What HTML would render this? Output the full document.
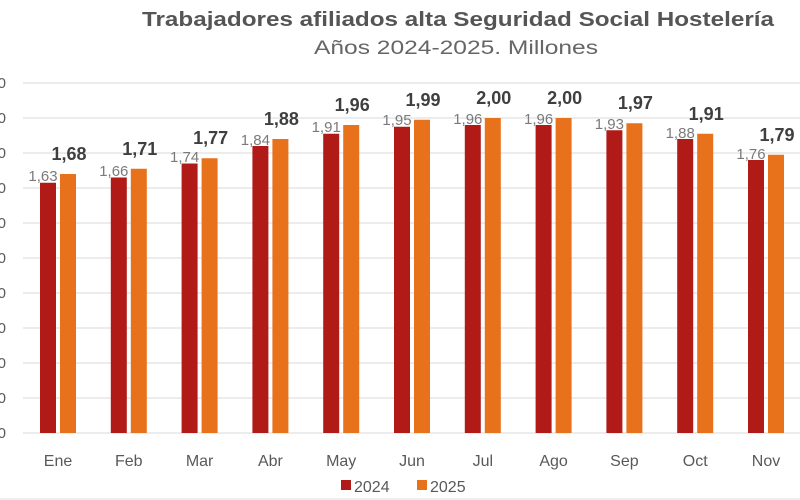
<!DOCTYPE html>
<html><head><meta charset="utf-8"><style>
html,body{margin:0;padding:0;background:#fff;}
svg{display:block;font-family:"Liberation Sans",sans-serif;}
.g{stroke:#d9d9d9;stroke-width:1}
.a{fill:#b01a17}.b{fill:#e8711c}
.l1{font-size:15px;fill:#7a7a7a;text-anchor:middle}
.l2{font-size:18px;font-weight:bold;fill:#3f3f3f;text-anchor:middle}
.m{font-size:16px;fill:#595959;text-anchor:middle}
.y{font-size:15px;fill:#595959;text-anchor:end}
</style></head><body>
<svg width="800" height="500" viewBox="0 0 800 500">
<rect width="800" height="500" fill="#fff"/>
<text x="142" y="26" font-size="20" font-weight="bold" fill="#555" textLength="632" lengthAdjust="spacingAndGlyphs">Trabajadores afiliados alta Seguridad Social Hostelería</text>
<text x="314" y="54" font-size="19" fill="#666" textLength="284" lengthAdjust="spacingAndGlyphs">Años 2024-2025. Millones</text>
<g class="g">
<line x1="23" x2="800" y1="83" y2="83"/><line x1="23" x2="800" y1="118" y2="118"/>
<line x1="23" x2="800" y1="153" y2="153"/><line x1="23" x2="800" y1="188" y2="188"/>
<line x1="23" x2="800" y1="223" y2="223"/><line x1="23" x2="800" y1="258" y2="258"/>
<line x1="23" x2="800" y1="293" y2="293"/><line x1="23" x2="800" y1="328" y2="328"/>
<line x1="23" x2="800" y1="363" y2="363"/><line x1="23" x2="800" y1="398" y2="398"/>
<line x1="23" x2="800" y1="433" y2="433"/>
</g>
<g class="y">
<text x="6" y="88">0</text><text x="6" y="123">0</text><text x="6" y="158">0</text><text x="6" y="193">0</text>
<text x="6" y="228">0</text><text x="6" y="263">0</text><text x="6" y="298">0</text><text x="6" y="333">0</text>
<text x="6" y="368">0</text><text x="6" y="403">0</text><text x="6" y="438">0</text>
</g>
<g>
<rect class="a" x="40" y="182.75" width="16" height="250.25"/><rect class="b" x="60" y="174" width="16" height="259"/>
<rect class="a" x="110.8" y="177.5" width="16" height="255.5"/><rect class="b" x="130.8" y="168.75" width="16" height="264.25"/>
<rect class="a" x="181.6" y="163.5" width="16" height="269.5"/><rect class="b" x="201.6" y="158.25" width="16" height="274.75"/>
<rect class="a" x="252.4" y="146" width="16" height="287"/><rect class="b" x="272.4" y="139" width="16" height="294"/>
<rect class="a" x="323.2" y="133.75" width="16" height="299.25"/><rect class="b" x="343.2" y="125" width="16" height="308"/>
<rect class="a" x="394" y="126.75" width="16" height="306.25"/><rect class="b" x="414" y="119.75" width="16" height="313.25"/>
<rect class="a" x="464.8" y="125" width="16" height="308"/><rect class="b" x="484.8" y="118" width="16" height="315"/>
<rect class="a" x="535.6" y="125" width="16" height="308"/><rect class="b" x="555.6" y="118" width="16" height="315"/>
<rect class="a" x="606.4" y="130.25" width="16" height="302.75"/><rect class="b" x="626.4" y="123.25" width="16" height="309.75"/>
<rect class="a" x="677.2" y="139" width="16" height="294"/><rect class="b" x="697.2" y="133.75" width="16" height="299.25"/>
<rect class="a" x="748" y="160" width="16" height="273"/><rect class="b" x="768" y="154.75" width="16" height="278.25"/>
</g>
<g class="l1">
<text x="43" y="181">1,63</text><text x="113.8" y="176">1,66</text><text x="184.6" y="162">1,74</text>
<text x="255.4" y="145">1,84</text><text x="326.2" y="132">1,91</text><text x="397" y="125">1,95</text>
<text x="467.8" y="124">1,96</text><text x="538.6" y="124">1,96</text><text x="609.4" y="129">1,93</text>
<text x="680.2" y="138">1,88</text><text x="751" y="159">1,76</text>
</g>
<g class="l2">
<text x="69" y="160">1,68</text><text x="139.8" y="155">1,71</text><text x="210.6" y="144">1,77</text>
<text x="281.4" y="125">1,88</text><text x="352.2" y="111">1,96</text><text x="423" y="106">1,99</text>
<text x="493.8" y="104">2,00</text><text x="564.6" y="104">2,00</text><text x="635.4" y="109">1,97</text>
<text x="706.2" y="120">1,91</text><text x="777" y="141">1,79</text>
</g>
<g class="m">
<text x="58" y="466">Ene</text><text x="128.8" y="466">Feb</text><text x="199.6" y="466">Mar</text>
<text x="270.4" y="466">Abr</text><text x="341.2" y="466">May</text><text x="412" y="466">Jun</text>
<text x="482.8" y="466">Jul</text><text x="553.6" y="466">Ago</text><text x="624.4" y="466">Sep</text>
<text x="695.2" y="466">Oct</text><text x="766" y="466">Nov</text>
</g>
<rect class="a" x="341" y="480" width="10" height="10"/>
<text x="354" y="492" font-size="16" fill="#595959">2024</text>
<rect class="b" x="417" y="480" width="10" height="10"/>
<text x="430" y="492" font-size="16" fill="#595959">2025</text>
<line x1="0" x2="800" y1="499" y2="499" stroke="#ddd"/>
</svg>
</body></html>
